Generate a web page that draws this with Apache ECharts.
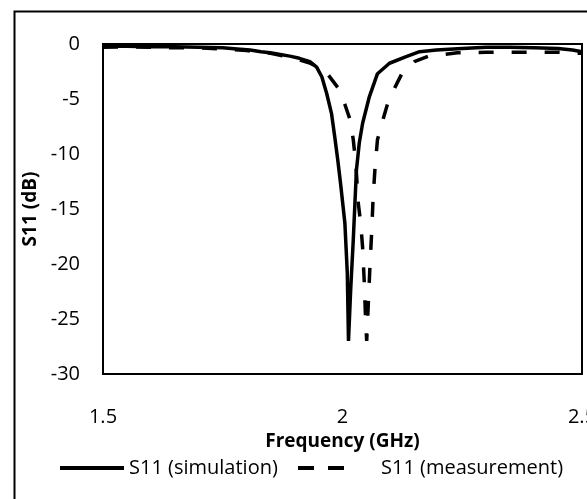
<!DOCTYPE html>
<html>
<head>
<meta charset="utf-8">
<script src="https://cdn.jsdelivr.net/npm/echarts@6/dist/echarts.min.js"></script>
<style>
html,body{margin:0;padding:0;background:#fff;}
#chart{width:587px;height:499px;}
</style>
</head>
<body>
<div id="chart"></div>
<script>
var seriesNames = ['S11 (simulation)', 'S11 (measurement)'];
var xTicks = [1.5, 2, 2.5];
var yTicks = [0, -5, -10, -15, -20, -25, -30];

var simulation = [
  [1.50,-0.2],[1.55,-0.2],[1.60,-0.25],[1.65,-0.25],[1.70,-0.3],[1.75,-0.35],
  [1.78,-0.45],[1.807,-0.55],[1.83,-0.7],[1.849,-0.8],[1.87,-0.95],[1.89,-1.1],
  [1.91,-1.3],[1.932,-1.6],[1.946,-2.1],[1.957,-3.0],[1.967,-4.5],[1.977,-6.3],
  [1.984,-8.5],[1.990,-10.5],[1.996,-12.7],[2.005,-16.3],[2.010,-20.8],[2.0125,-27],
  [2.017,-22.4],[2.0225,-17.8],[2.029,-11.5],[2.035,-9.0],[2.042,-7.2],[2.056,-4.8],
  [2.073,-2.7],[2.098,-1.75],[2.133,-1.15],[2.161,-0.7],[2.196,-0.55],[2.25,-0.4],
  [2.30,-0.3],[2.35,-0.3],[2.40,-0.35],[2.45,-0.4],[2.48,-0.55],[2.50,-0.7]
];

var measurement = [
  [1.50,-0.3],[1.55,-0.25],[1.60,-0.3],[1.65,-0.35],[1.70,-0.35],[1.75,-0.45],
  [1.80,-0.6],[1.85,-0.85],[1.89,-1.2],[1.93,-1.7],[1.95,-2.1],[1.970,-2.8],
  [1.991,-4.0],[2.005,-5.5],[2.016,-6.9],[2.0225,-8.7],[2.028,-11],[2.033,-14.5],
  [2.038,-16.3],[2.042,-18.5],[2.0455,-21.7],[2.048,-24.8],[2.0505,-27],
  [2.054,-23.5],[2.057,-20.5],[2.061,-17],[2.064,-13.9],[2.068,-11.2],[2.073,-8.7],
  [2.085,-6.8],[2.095,-5.3],[2.11,-3.9],[2.125,-2.6],[2.15,-1.6],[2.18,-1.1],
  [2.21,-0.95],[2.24,-0.8],[2.30,-0.75],[2.35,-0.75],[2.40,-0.75],[2.45,-0.75],[2.50,-0.85]
];

var FONT = '"Open Sans", sans-serif';
var chart = echarts.init(document.getElementById('chart'), null, {renderer: 'canvas'});
chart.setOption({
  backgroundColor: '#fff',
  animation: false,
  graphic: [{
    type: 'rect', left: 12, top: 9, z: -10,
    shape: {width: 600, height: 520},
    style: {fill: 'none', stroke: '#000', lineWidth: 2}
  }],
  grid: {
    left: 103, top: 44, width: 479, height: 330,
    outerBoundsMode: 'none', containLabel: false,
    show: true, borderColor: '#000', borderWidth: 2, backgroundColor: 'transparent'
  },
  xAxis: {
    type: 'value', min: xTicks[0], max: xTicks[xTicks.length-1], interval: 0.5,
    name: 'Frequency (GHz)', nameLocation: 'middle', nameGap: 50,
    nameTextStyle: {fontFamily: FONT, fontSize: 19, fontWeight: 'bold', color: '#000'},
    axisLine: {show: true, lineStyle: {color: '#000', width: 2}},
    axisTick: {show: false},
    splitLine: {show: false},
    axisLabel: {margin: 33, fontFamily: FONT, fontSize: 20, color: '#000',
      hideOverlap: false, showMaxLabel: true, showMinLabel: true,
      formatter: function(v){ return String(v); }}
  },
  yAxis: {
    type: 'value', min: yTicks[yTicks.length-1], max: yTicks[0], interval: 5,
    name: 'S11 (dB)', nameLocation: 'middle', nameGap: 62,
    nameTextStyle: {fontFamily: FONT, fontSize: 19, fontWeight: 'bold', color: '#000'},
    axisLine: {show: true, lineStyle: {color: '#000', width: 2}},
    axisTick: {show: false},
    splitLine: {show: false},
    axisLabel: {margin: 23, fontFamily: FONT, fontSize: 20, color: '#000'}
  },
  legend: [{
    data: [{name: seriesNames[0]}],
    left: 58, top: 458, padding: 0,
    itemWidth: 64, itemHeight: 20,
    itemStyle: {opacity: 0},
    lineStyle: {width: 4, opacity: 1},
    textStyle: {fontFamily: FONT, fontSize: 20, color: '#000'}
  }, {
    data: [{name: seriesNames[1]}],
    left: 282, top: 458, padding: 0,
    itemWidth: 92, itemHeight: 20,
    itemStyle: {opacity: 0},
    lineStyle: {type: [0, 14, 16, 14, 16, 60], width: 4, opacity: 1},
    textStyle: {fontFamily: FONT, fontSize: 20, color: '#000'}
  }],
  series: [{
    name: seriesNames[0], type: 'line', data: simulation,
    showSymbol: false, symbol: 'none', smooth: false,
    lineStyle: {color: '#000', width: 3.5}, itemStyle: {color: '#000'}
  }, {
    name: seriesNames[1], type: 'line', data: measurement,
    showSymbol: false, symbol: 'none', smooth: false,
    lineStyle: {color: '#000', width: 3.5, type: [15, 18]}, itemStyle: {color: '#000'}
  }]
});
</script>
</body>
</html>
